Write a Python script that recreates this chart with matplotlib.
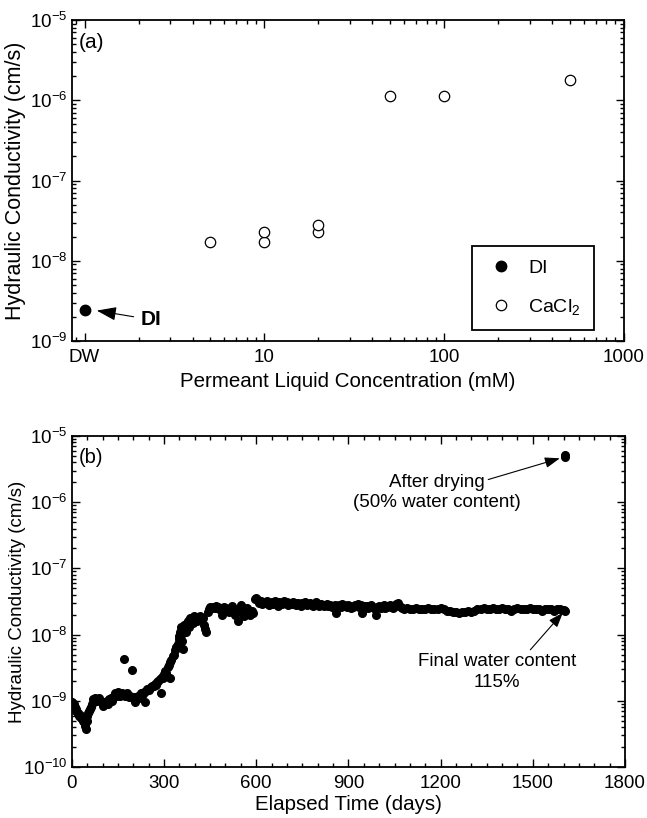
import matplotlib
matplotlib.use("Agg")
import matplotlib.pyplot as plt
from matplotlib.ticker import LogLocator, NullFormatter, MultipleLocator

plt.rcParams["font.family"] = ["Liberation Sans", "DejaVu Sans"]
plt.rcParams["mathtext.fontset"] = "custom"
plt.rcParams["mathtext.rm"] = "Liberation Sans"
plt.rcParams["mathtext.default"] = "regular"

# (a) hydraulic conductivity vs permeant concentration (DW plotted at 1 mM)
di_conc = [1]
di_k = [2.45e-9]
cacl2_conc = [5, 10, 10, 20, 20, 50, 100, 500]
cacl2_k = [1.7e-8, 1.7e-8, 2.3e-8, 2.3e-8, 2.8e-8, 1.12e-6, 1.12e-6, 1.8e-6]
conc_ticks = [1, 10, 100, 1000]
conc_labels = ["DW", "10", "100", "1000"]

# (b) hydraulic conductivity vs elapsed time, k in units of 1e-9 cm/s
early_days = [0, 3, 6, 9, 12, 15, 18, 21, 24, 27, 30, 33, 36, 39, 42, 45, 48, 51,
              54, 57, 60, 63, 66, 70, 74, 78, 82, 86, 90, 94, 98, 102, 106, 110,
              114, 118, 122, 126, 130, 134, 138, 142, 146, 150, 154, 158, 162,
              166, 170, 174, 178, 182, 186, 190, 195, 198, 202, 206, 210, 214,
              218, 222, 226, 230, 234, 238, 242, 246, 250, 254, 258, 262, 266,
              270, 274, 278, 282, 286, 290, 292, 296]
early_k = [0.95, 0.85, 0.9, 0.8, 0.75, 0.7, 0.68, 0.65, 0.6, 0.62, 0.55, 0.55,
           0.5, 0.48, 0.42, 0.38, 0.5, 0.6, 0.65, 0.7, 0.75, 0.8, 0.9, 1.05,
           1.1, 1.05, 1.0, 1.05, 1.1, 1.0, 0.95, 0.85, 0.9, 0.95, 1.0, 0.9,
           1.05, 1.1, 1.0, 1.15, 1.2, 1.3, 1.2, 1.35, 1.25, 1.2, 1.3, 1.25,
           4.3, 1.2, 1.3, 1.2, 1.15, 1.2, 2.9, 1.1, 1.15, 0.95, 1.05, 1.2,
           1.1, 1.2, 1.3, 1.25, 1.35, 0.95, 1.4, 1.5, 1.45, 1.55, 1.6, 1.7,
           1.65, 1.8, 1.75, 1.9, 2.0, 2.1, 1.3, 2.3, 2.2]
rise_days = [300, 304, 308, 312, 316, 318, 320, 324, 328, 332, 336, 340, 344,
             348, 350, 352, 354, 356, 358, 360, 362, 364, 366, 370, 374, 378,
             382, 386, 390, 394, 398, 402, 406, 410, 414, 418, 422, 426, 430,
             434, 438, 442, 446, 450, 455, 460, 465, 470, 475, 480, 485, 490,
             495, 500, 505, 510, 515, 520, 525, 530, 535, 540, 545, 550, 555,
             560, 565, 570, 575, 580, 585, 590]
rise_k = [2.5, 2.8, 2.6, 3.2, 3.5, 2.2, 3.8, 4.2, 4.8, 5.0, 5.8, 6.5, 7.2, 8.5,
          9.5, 11, 13, 10, 12, 8.0, 6.0, 14, 12, 11, 15, 16, 13, 18, 17, 15,
          19, 18, 16, 17, 18, 19, 17, 18, 14, 12, 11, 22, 24, 26, 25, 26, 25,
          27, 26, 24, 25, 20, 26, 25, 24, 22, 25, 27, 23, 20, 22, 16, 24, 28,
          22, 19, 21, 25, 22, 20, 23, 21]
plateau_days = [595, 600, 605, 610, 615, 620, 625, 630, 635, 640, 645, 650, 655,
                660, 665, 670, 675, 680, 685, 690, 695, 700, 705, 710, 715, 720,
                725, 730, 735, 740, 745, 750, 755, 760, 765, 770, 775, 780, 785,
                790, 795, 800, 805, 810, 815, 820, 825, 830, 835, 840, 845, 850,
                855, 860, 865, 870, 875, 880, 885, 890, 895, 900, 905, 910, 915,
                920, 925, 930, 935, 940, 945, 950, 955, 960, 965, 970, 975, 980,
                985, 990, 995, 1000, 1005, 1010, 1015, 1020, 1025, 1030, 1035,
                1040, 1045, 1050, 1055, 1060, 1065, 1070, 1075]
plateau_k = [34, 36, 33, 30, 32, 29, 31, 30, 32, 28, 30, 31, 29, 32, 30, 27, 31,
             30, 29, 32, 30, 31, 28, 30, 29, 31, 30, 28, 30, 29, 27, 30, 29, 31,
             28, 29, 30, 28, 27, 29, 31, 28, 27, 29, 28, 27, 28, 29, 27, 28, 26,
             27, 28, 21, 27, 28, 26, 29, 28, 27, 26, 28, 27, 25, 26, 28, 27, 29,
             26, 28, 21, 27, 26, 27, 25, 26, 28, 26, 24, 20, 26, 27, 25, 26, 28,
             25, 26, 27, 28, 26, 25, 27, 29, 30, 27, 26, 25]
late_days = [1080, 1090, 1100, 1110, 1120, 1130, 1140, 1150, 1160, 1170, 1180,
             1190, 1200, 1210, 1220, 1230, 1240, 1250, 1260, 1270, 1280, 1290,
             1300, 1310, 1320, 1330, 1340, 1350, 1360, 1370, 1380, 1390, 1400,
             1410, 1420, 1430, 1440, 1450, 1460, 1470, 1480, 1490, 1500, 1510,
             1520, 1530, 1540, 1550, 1560, 1570, 1580, 1590, 1600, 1606]
late_k = [24, 25, 24, 24, 25, 24, 24, 24, 25, 24, 24, 24, 25, 24, 23, 23, 22,
          22, 21, 22, 22, 23, 22, 23, 24, 24, 25, 24, 24, 25, 24, 24, 25, 24,
          24, 23, 24, 25, 24, 24, 24, 25, 24, 24, 24, 23, 24, 24, 24, 23, 24,
          24, 23.5, 23]
dried_days = [1606, 1606]
dried_k = [4.8e-6, 5.2e-6]

time_days = early_days + rise_days + plateau_days + late_days
time_k = [v * 1e-9 for v in early_k + rise_k + plateau_k + late_k]


def style_axis(ax):
    ax.tick_params(which="both", direction="in", top=True, right=True,
                   labelsize=13.5, width=1)
    ax.tick_params(axis="x", which="both", pad=6)
    ax.tick_params(axis="y", which="both", pad=3)
    ax.tick_params(which="major", length=6)
    ax.tick_params(which="minor", length=3)
    for s in ax.spines.values():
        s.set_linewidth(1.3)


fig = plt.figure(figsize=(6.47, 8.18), dpi=100)

# ---- panel (a)
ax1 = fig.add_axes([0.111, 0.583, 0.853, 0.3926])
ax1.set_xscale("log")
ax1.set_yscale("log")
ax1.plot(di_conc, di_k, "o", color="black", ms=7.5, label="DI")
ax1.plot(cacl2_conc, cacl2_k, "o", mfc="white", mec="black", mew=0.9, ms=7.5,
         label="CaCl$_2$")
ax1.set_xlim(0.85, 1000)
ax1.set_ylim(1e-9, 1e-5)
ax1.set_xticks(conc_ticks)
ax1.set_xticklabels(conc_labels)
ax1.xaxis.set_minor_locator(LogLocator(base=10, subs=range(2, 10)))
ax1.xaxis.set_minor_formatter(NullFormatter())
ax1.yaxis.set_major_locator(LogLocator(base=10, numticks=10))
ax1.yaxis.set_minor_locator(LogLocator(base=10, subs=range(2, 10), numticks=10))
ax1.yaxis.set_minor_formatter(NullFormatter())
style_axis(ax1)
ax1.set_xlabel("Permeant Liquid Concentration (mM)", fontsize=14.8, labelpad=4)
ax1.set_ylabel("Hydraulic Conductivity (cm/s)", fontsize=15.5)
ax1.yaxis.set_label_coords(-0.083, 0.5)
ax1.text(0.012, 0.958, "(a)", transform=ax1.transAxes, fontsize=15, va="top")
ax1.annotate("DI", xy=(1.17, 2.4e-9), xytext=(2.05, 1.85e-9), fontsize=15,
             fontweight="bold", va="center", ha="left",
             arrowprops=dict(arrowstyle="-|>,head_length=0.8,head_width=0.28",
                             color="black", lw=0.8, shrinkA=3, shrinkB=0))
leg = ax1.legend(loc="lower right", bbox_to_anchor=(0.946, 0.034), fontsize=14,
                 frameon=True, fancybox=False, edgecolor="black", framealpha=1,
                 handlelength=1.6, handletextpad=0.6, labelspacing=1.0,
                 borderpad=0.7, borderaxespad=0)
leg.get_frame().set_linewidth(1.3)

# ---- panel (b)
ax2 = fig.add_axes([0.111, 0.0623, 0.855, 0.4047])
ax2.set_yscale("log")
ax2.plot(time_days, time_k, "o", color="black", ms=5.5)
ax2.plot(dried_days, dried_k, "o", color="black", ms=5.5)
ax2.set_xlim(0, 1800)
ax2.set_ylim(1e-10, 1e-5)
ax2.xaxis.set_major_locator(MultipleLocator(300))
ax2.xaxis.set_minor_locator(MultipleLocator(50))
ax2.yaxis.set_major_locator(LogLocator(base=10, numticks=10))
ax2.yaxis.set_minor_locator(LogLocator(base=10, subs=range(2, 10), numticks=10))
ax2.yaxis.set_minor_formatter(NullFormatter())
style_axis(ax2)
ax2.set_xlabel("Elapsed Time (days)", fontsize=14.8, labelpad=2)
ax2.set_ylabel("Hydraulic Conductivity (cm/s)", fontsize=13.5)
ax2.yaxis.set_label_coords(-0.083, 0.5)
ax2.text(0.012, 0.965, "(b)", transform=ax2.transAxes, fontsize=14.5, va="top")

ax2.text(1189, 1.4e-6, "After drying\n(50% water content)", fontsize=13.5,
         ha="center", va="center", linespacing=1.3)
ax2.annotate("", xy=(1588, 4.6e-6), xytext=(1355, 2.2e-6),
             arrowprops=dict(arrowstyle="-|>,head_length=0.7,head_width=0.25",
                             color="black", lw=0.8, shrinkA=0, shrinkB=0),
             fontsize=13)
ax2.text(1384, 2.7e-9, "Final water content\n115%", fontsize=13.5,
         ha="center", va="center", linespacing=1.3)
ax2.annotate("", xy=(1598, 2.15e-8), xytext=(1492, 5.9e-9),
             arrowprops=dict(arrowstyle="-|>,head_length=0.7,head_width=0.25",
                             color="black", lw=0.8, shrinkA=0, shrinkB=0),
             fontsize=13)

fig.savefig("out.png", dpi=100)
